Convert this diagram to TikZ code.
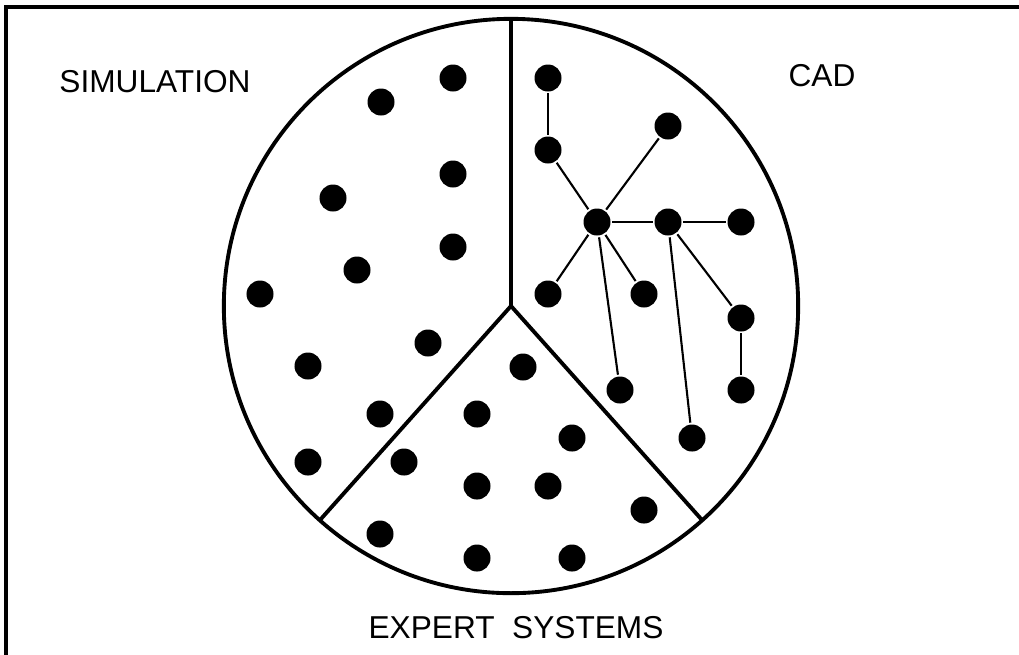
\documentclass[tikz,border=0pt]{standalone}
\usepackage{fontspec}
\setmainfont{Liberation Sans}
\usetikzlibrary{positioning}

\begin{document}
\begin{tikzpicture}[x=0.01cm,y=-0.01cm,line width=1.1pt,every node/.style={font=\fontsize{9pt}{11pt}\selectfont},blob/.style={circle,fill,draw=none,inner sep=0pt,minimum size=2.7mm}]
\useasboundingbox (0,0) rectangle (1019,654);
\draw (6,7) rectangle (1040,680);
\coordinate (ctr) at (511,306);
\coordinate (top) at (511,19);
\coordinate (ll) at (320,520);
\coordinate (lr) at (702,520);
\draw (ctr) circle[radius=2.87cm];
\draw (ctr)--(top);\draw (ctr)--(ll);\draw (ctr)--(lr);
\node (sim) at (155,82) {SIMULATION};
\node (cad) at (822,76) {CAD};
\node (exp) at (516,628) {EXPERT\ \ SYSTEMS};
% simulation
\foreach \x/\y [count=\i] in {453/78,381/102,453/174,333/198,453/247,357/270,260/294,428/343,308/366,380/414,308/462}
  \node[blob] (s\i) at (\x,\y) {};
% expert systems
\foreach \x/\y [count=\i] in {523/367,477/414,572/438,404/462,477/486,548/486,644/510,380/534,477/558,572/558}
  \node[blob] (e\i) at (\x,\y) {};
% cad
\node[blob] (c1) at (548,78) {};
\node[blob] (c2) at (548,150) {};
\node[blob] (c3) at (668,126) {};
\node[blob] (hub) at (597,222) {};
\node[blob] (c5) at (668,222) {};
\node[blob] (c6) at (741,222) {};
\node[blob] (c7) at (548,294) {};
\node[blob] (c8) at (644,294) {};
\node[blob] (c9) at (741,318) {};
\node[blob] (c10) at (741,390) {};
\node[blob] (c11) at (620,390) {};
\node[blob] (c12) at (692,438) {};
\foreach \a/\b in {c1/c2,c2/hub,hub/c3,hub/c5,c5/c6,hub/c7,hub/c8,hub/c11,c5/c12,c5/c9,c9/c10}
  \draw[line width=0.6pt] (\a)--(\b);
\end{tikzpicture}
\end{document}
